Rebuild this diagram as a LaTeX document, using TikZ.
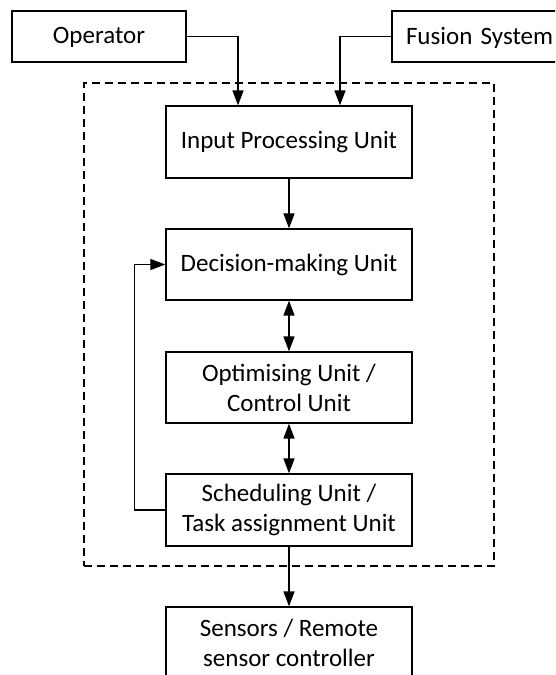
\documentclass[tikz,border=0pt]{standalone}
\usepackage{fontspec}
\setmainfont{Carlito}
\usetikzlibrary{arrows.meta,calc}
\begin{document}
\begin{tikzpicture}[x=1pt,y=-1pt,
  box/.style={draw, line width=1.3pt, minimum width=246pt, minimum height=72pt, align=center, inner sep=0pt, font=\fontsize{25}{30}\selectfont},
  topbox/.style={draw, line width=1.3pt, minimum height=51pt, inner sep=0pt, font=\fontsize{25}{30}\selectfont},
  grpbox/.style={draw, line width=1.1pt, dash pattern=on 8pt off 5pt, minimum width=410pt, minimum height=483pt, inner sep=0pt},
  arr/.style={line width=1.6pt, -{Triangle[length=15pt,width=11pt]}},
  darr/.style={line width=1.6pt, {Triangle[length=15pt,width=11pt]}-{Triangle[length=15pt,width=11pt]}}]
\useasboundingbox (0,0) rectangle (555,675);
\clip (0,0) rectangle (555,675);
\node[grpbox] (grp) at (289,324.5) {};
\node[topbox, minimum width=174pt, text depth=2pt] (op) at (99,36.5) {Operator};
\node[topbox, minimum width=172pt, text width=172pt, text depth=2pt, align=left] (fus) at (478,36.5) {\hspace{14pt}Fusion System};
\node[box] (inp) at (289,142) {Input Processing Unit};
\node[box, minimum height=71pt] (dec) at (289,264.5) {Decision-making Unit};
\node[box, minimum height=71pt] (opt) at (289,387.5) {Optimising Unit /\\Control Unit};
\node[box] (sch) at (289,510) {Scheduling Unit /\\Task assignment Unit};
\node[box] (sen) at (289,643) {Sensors / Remote\\sensor controller};
\coordinate (inL) at ($(inp.north)+(-51,0)$);
\coordinate (inR) at ($(inp.north)+(51,0)$);
\coordinate (fb) at ($(sch.west)+(-31,0)$);
\draw[arr] (op.east) -| (inL);
\draw[arr] (fus.west) -| (inR);
\draw[arr] (inp.south) -- (dec.north);
\draw[darr] (dec.south) -- (opt.north);
\draw[darr] (opt.south) -- (sch.north);
\draw[arr] (sch.south) -- (sen.north);
\draw[arr, line width=1.2pt] (sch.west) -- (fb) |- (dec.west);
\end{tikzpicture}
\end{document}
